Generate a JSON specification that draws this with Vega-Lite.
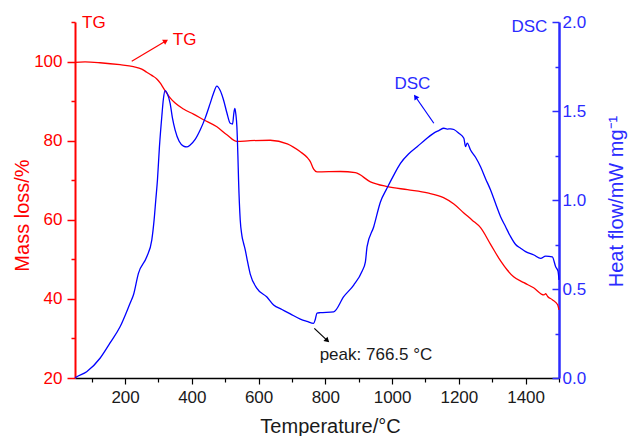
{
  "$schema": "https://vega.github.io/schema/vega-lite/v6.json",
  "width": 484,
  "height": 356,
  "autosize": "none",
  "padding": {"left": 75, "top": 22, "right": 69, "bottom": 58},
  "config": {"view": {"stroke": null}, "font": "Liberation Sans", "axis": {"grid": false}},
  "datasets": {
    "tg": [
      {"T": 50, "mass": 99.8}, {"T": 80, "mass": 99.9}, {"T": 125, "mass": 99.7}, {"T": 185, "mass": 99.2},
      {"T": 225, "mass": 98.7}, {"T": 250, "mass": 98.1}, {"T": 265, "mass": 97.3}, {"T": 280, "mass": 96.5},
      {"T": 295, "mass": 95.6}, {"T": 305, "mass": 94.6}, {"T": 315, "mass": 93.3}, {"T": 325, "mass": 92.0},
      {"T": 335, "mass": 90.8}, {"T": 350, "mass": 89.5}, {"T": 375, "mass": 88.0}, {"T": 405, "mass": 86.7},
      {"T": 435, "mass": 85.3}, {"T": 475, "mass": 83.5}, {"T": 505, "mass": 81.5}, {"T": 535, "mass": 79.8},
      {"T": 575, "mass": 80.0}, {"T": 635, "mass": 80.1}, {"T": 686, "mass": 79.2}, {"T": 725, "mass": 77.2},
      {"T": 745, "mass": 75.8}, {"T": 755, "mass": 74.7}, {"T": 765, "mass": 72.8}, {"T": 775, "mass": 72.1},
      {"T": 845, "mass": 72.2}, {"T": 890, "mass": 71.9}, {"T": 935, "mass": 69.6}, {"T": 986, "mass": 68.4},
      {"T": 1046, "mass": 67.6}, {"T": 1106, "mass": 66.8}, {"T": 1154, "mass": 65.6}, {"T": 1185, "mass": 64.0},
      {"T": 1214, "mass": 61.8}, {"T": 1240, "mass": 59.9}, {"T": 1265, "mass": 58.0}, {"T": 1295, "mass": 53.8},
      {"T": 1325, "mass": 49.6}, {"T": 1345, "mass": 47.3}, {"T": 1364, "mass": 45.6}, {"T": 1395, "mass": 44.1},
      {"T": 1424, "mass": 42.8}, {"T": 1455, "mass": 41.0}, {"T": 1460, "mass": 41.3}, {"T": 1466, "mass": 40.6},
      {"T": 1480, "mass": 39.8}, {"T": 1496, "mass": 38.5}, {"T": 1500, "mass": 37.2}
    ],
    "dsc": [
      {"T": 50, "heat": 0.0}, {"T": 53, "heat": 0.004}, {"T": 85, "heat": 0.035}, {"T": 125, "heat": 0.111},
      {"T": 155, "heat": 0.197}, {"T": 185, "heat": 0.288}, {"T": 215, "heat": 0.42}, {"T": 225, "heat": 0.466},
      {"T": 240, "heat": 0.588}, {"T": 265, "heat": 0.681}, {"T": 280, "heat": 0.775}, {"T": 287, "heat": 0.888},
      {"T": 292, "heat": 1.0}, {"T": 297, "heat": 1.112}, {"T": 303, "heat": 1.3}, {"T": 310, "heat": 1.468},
      {"T": 315, "heat": 1.57}, {"T": 320, "heat": 1.614}, {"T": 326, "heat": 1.6}, {"T": 335, "heat": 1.543},
      {"T": 342, "heat": 1.46}, {"T": 350, "heat": 1.393}, {"T": 362, "heat": 1.33}, {"T": 375, "heat": 1.303},
      {"T": 385, "heat": 1.298}, {"T": 395, "heat": 1.309}, {"T": 410, "heat": 1.34}, {"T": 425, "heat": 1.393},
      {"T": 440, "heat": 1.46}, {"T": 455, "heat": 1.543}, {"T": 465, "heat": 1.6}, {"T": 475, "heat": 1.64},
      {"T": 485, "heat": 1.615}, {"T": 495, "heat": 1.562}, {"T": 505, "heat": 1.49}, {"T": 515, "heat": 1.431},
      {"T": 522, "heat": 1.427}, {"T": 526, "heat": 1.49}, {"T": 529, "heat": 1.515}, {"T": 532, "heat": 1.48},
      {"T": 535, "heat": 1.412}, {"T": 538, "heat": 1.25}, {"T": 540, "heat": 1.112}, {"T": 545, "heat": 0.888},
      {"T": 550, "heat": 0.8}, {"T": 555, "heat": 0.757}, {"T": 560, "heat": 0.72}, {"T": 565, "heat": 0.672},
      {"T": 575, "heat": 0.584}, {"T": 595, "heat": 0.504}, {"T": 625, "heat": 0.455}, {"T": 645, "heat": 0.41},
      {"T": 670, "heat": 0.385}, {"T": 695, "heat": 0.36}, {"T": 725, "heat": 0.331}, {"T": 745, "heat": 0.318},
      {"T": 765, "heat": 0.307}, {"T": 770, "heat": 0.33}, {"T": 775, "heat": 0.365}, {"T": 785, "heat": 0.367},
      {"T": 825, "heat": 0.372}, {"T": 855, "heat": 0.457}, {"T": 885, "heat": 0.522}, {"T": 910, "heat": 0.6},
      {"T": 920, "heat": 0.653}, {"T": 925, "heat": 0.738}, {"T": 945, "heat": 0.85}, {"T": 965, "heat": 0.989},
      {"T": 985, "heat": 1.067}, {"T": 1005, "heat": 1.14}, {"T": 1025, "heat": 1.206}, {"T": 1050, "heat": 1.26},
      {"T": 1075, "heat": 1.299}, {"T": 1100, "heat": 1.34}, {"T": 1125, "heat": 1.376}, {"T": 1140, "heat": 1.39},
      {"T": 1155, "heat": 1.403}, {"T": 1165, "heat": 1.398}, {"T": 1175, "heat": 1.4}, {"T": 1185, "heat": 1.396},
      {"T": 1200, "heat": 1.375}, {"T": 1215, "heat": 1.347}, {"T": 1220, "heat": 1.3}, {"T": 1225, "heat": 1.32},
      {"T": 1235, "heat": 1.281}, {"T": 1250, "heat": 1.24}, {"T": 1265, "heat": 1.187}, {"T": 1280, "heat": 1.12},
      {"T": 1295, "heat": 1.056}, {"T": 1310, "heat": 0.98}, {"T": 1325, "heat": 0.906}, {"T": 1340, "heat": 0.85},
      {"T": 1355, "heat": 0.794}, {"T": 1370, "heat": 0.75}, {"T": 1385, "heat": 0.729}, {"T": 1400, "heat": 0.71},
      {"T": 1425, "heat": 0.691}, {"T": 1445, "heat": 0.672}, {"T": 1460, "heat": 0.685}, {"T": 1480, "heat": 0.681},
      {"T": 1490, "heat": 0.625}, {"T": 1497, "heat": 0.6}, {"T": 1500, "heat": 0.551}
    ],
    "tg_text": [{"T": 71, "mass": 108.6, "label": "TG"}, {"T": 343, "mass": 104.3, "label": "TG"}],
    "tg_arrow": [{"T": 220, "mass": 100.1, "T2": 322, "mass2": 105.2}],
    "tg_head": [{"T": 322, "mass": 105.2}],
    "dsc_text": [{"T": 1007, "heat": 1.622, "label": "DSC"}],
    "dsc_top": [{"T": 1465, "heat": 1.942, "label": "DSC"}],
    "peak_text": [{"T": 783, "heat": 0.101, "label": "peak: 766.5 °C"}],
    "dsc_arrow": [{"T": 1125, "heat": 1.431, "T2": 1070, "heat2": 1.58}],
    "dsc_head": [{"T": 1070, "heat": 1.58}],
    "peak_arrow": [{"T": 767, "heat": 0.279, "T2": 806, "heat2": 0.21}],
    "peak_head": [{"T": 806, "heat": 0.21}]
  },
  "encoding": {
    "x": {
      "field": "T", "type": "quantitative",
      "scale": {"domain": [50, 1500], "nice": false, "zero": false},
      "axis": {
        "values": [100, 200, 300, 400, 500, 600, 700, 800, 900, 1000, 1100, 1200, 1300, 1400, 1500],
        "labelExpr": "datum.value % 200 == 0 && datum.value < 1500 ? format(datum.value, 'd') : ''",
        "tickSize": {"condition": {"test": "datum.value % 200 == 0", "value": 6}, "value": 4},
        "domainColor": "#000000", "domainWidth": 1.5,
        "tickColor": "#000000", "tickWidth": 1.2,
        "labelFont": "Liberation Sans", "labelFontSize": 17, "labelColor": "#1a1a1a",
        "labelPadding": 5, "labelFlush": false, "labelOverlap": false,
        "title": "Temperature/°C", "titleFont": "Liberation Sans", "titleFontSize": 20,
        "titleFontWeight": "normal", "titleColor": "#1a1a1a",
        "titleX": 255, "titleY": 54, "titleAlign": "center", "titleBaseline": "alphabetic"
      }
    }
  },
  "layer": [
    {
      "encoding": {
        "y": {
          "field": "mass", "type": "quantitative",
          "scale": {"domain": [20, 110], "nice": false, "zero": false},
          "axis": {
            "orient": "left",
            "values": [20, 30, 40, 50, 60, 70, 80, 90, 100, 110],
            "labelExpr": "datum.value % 20 === 0 ? datum.label : ''",
            "tickSize": {"condition": {"test": "datum.value % 20 === 0", "value": 8}, "value": 4},
            "domainColor": "#ff0000", "domainWidth": 2,
            "tickColor": "#ff0000", "tickWidth": 1.5,
            "labelFont": "Liberation Sans", "labelFontSize": 17, "labelColor": "#ff0000",
            "labelPadding": 5, "labelFlush": false, "labelOverlap": false,
            "title": "Mass loss/%", "titleFont": "Liberation Sans", "titleFontSize": 20,
            "titleFontWeight": "normal", "titleColor": "#ff0000",
            "titleAngle": 270, "titleX": -47, "titleY": 193, "titleAlign": "center", "titleBaseline": "alphabetic"
          }
        }
      },
      "layer": [
        {
          "data": {"name": "tg"},
          "mark": {"type": "line", "color": "#ff0000", "strokeWidth": 1.3, "interpolate": "monotone"},
          "encoding": {}
        },
        {
          "data": {"name": "tg_text"},
          "mark": {"type": "text", "color": "#ff0000", "fontSize": 17, "align": "left", "baseline": "alphabetic", "font": "Liberation Sans"},
          "encoding": {"text": {"field": "label"}}
        },
        {
          "data": {"name": "tg_arrow"},
          "mark": {"type": "rule", "color": "#ff0000", "strokeWidth": 1.2},
          "encoding": {"x2": {"field": "T2"}, "y2": {"field": "mass2"}}
        },
        {
          "data": {"name": "tg_head"},
          "mark": {"type": "point", "shape": "triangle-up", "filled": true, "color": "#ff0000", "opacity": 1, "size": 35, "angle": 59},
          "encoding": {}
        }
      ]
    },
    {
      "encoding": {
        "y": {
          "field": "heat", "type": "quantitative",
          "scale": {"domain": [0, 2], "nice": false, "zero": false},
          "axis": {
            "orient": "right",
            "values": [0, 0.25, 0.5, 0.75, 1, 1.25, 1.5, 1.75, 2],
            "labelExpr": "abs(datum.value * 2 - round(datum.value * 2)) < 0.001 ? format(datum.value, '.1f') : ''",
            "tickSize": {"condition": {"test": "abs(datum.value * 2 - round(datum.value * 2)) < 0.001", "value": -7}, "value": -4},
            "domainColor": "#2b2bff", "domainWidth": 2.5,
            "tickColor": "#2b2bff", "tickWidth": 1.5,
            "labelFont": "Liberation Sans", "labelFontSize": 17, "labelColor": "#2b2bff",
            "labelPadding": 10, "labelFlush": false, "labelOverlap": false,
            "title": "Heat flow/mW mg⁻¹", "titleFont": "Liberation Sans", "titleFontSize": 20,
            "titleFontWeight": "normal", "titleColor": "#2b2bff",
            "titleAngle": 270, "titleX": 63, "titleY": 179, "titleAlign": "center", "titleBaseline": "alphabetic"
          }
        }
      },
      "layer": [
        {
          "data": {"name": "dsc"},
          "mark": {"type": "line", "color": "#0000ff", "strokeWidth": 1.3, "interpolate": "monotone"},
          "encoding": {}
        },
        {
          "data": {"name": "dsc_text"},
          "mark": {"type": "text", "color": "#2b2bff", "fontSize": 17, "align": "left", "baseline": "alphabetic", "font": "Liberation Sans"},
          "encoding": {"text": {"field": "label"}}
        },
        {
          "data": {"name": "dsc_top"},
          "mark": {"type": "text", "color": "#2b2bff", "fontSize": 17, "align": "right", "baseline": "alphabetic", "font": "Liberation Sans"},
          "encoding": {"text": {"field": "label"}}
        },
        {
          "data": {"name": "peak_text"},
          "mark": {"type": "text", "color": "#1a1a1a", "fontSize": 17, "align": "left", "baseline": "alphabetic", "font": "Liberation Sans"},
          "encoding": {"text": {"field": "label"}}
        },
        {
          "data": {"name": "dsc_arrow"},
          "mark": {"type": "rule", "color": "#0000ff", "strokeWidth": 1.2},
          "encoding": {"x2": {"field": "T2"}, "y2": {"field": "heat2"}}
        },
        {
          "data": {"name": "dsc_head"},
          "mark": {"type": "point", "shape": "triangle-up", "filled": true, "color": "#0000ff", "opacity": 1, "size": 35, "angle": 325},
          "encoding": {}
        },
        {
          "data": {"name": "peak_arrow"},
          "mark": {"type": "rule", "color": "#000000", "strokeWidth": 1.2},
          "encoding": {"x2": {"field": "T2"}, "y2": {"field": "heat2"}}
        },
        {
          "data": {"name": "peak_head"},
          "mark": {"type": "point", "shape": "triangle-up", "filled": true, "color": "#000000", "opacity": 1, "size": 35, "angle": 133},
          "encoding": {}
        }
      ]
    }
  ],
  "resolve": {"scale": {"y": "independent"}}
}
